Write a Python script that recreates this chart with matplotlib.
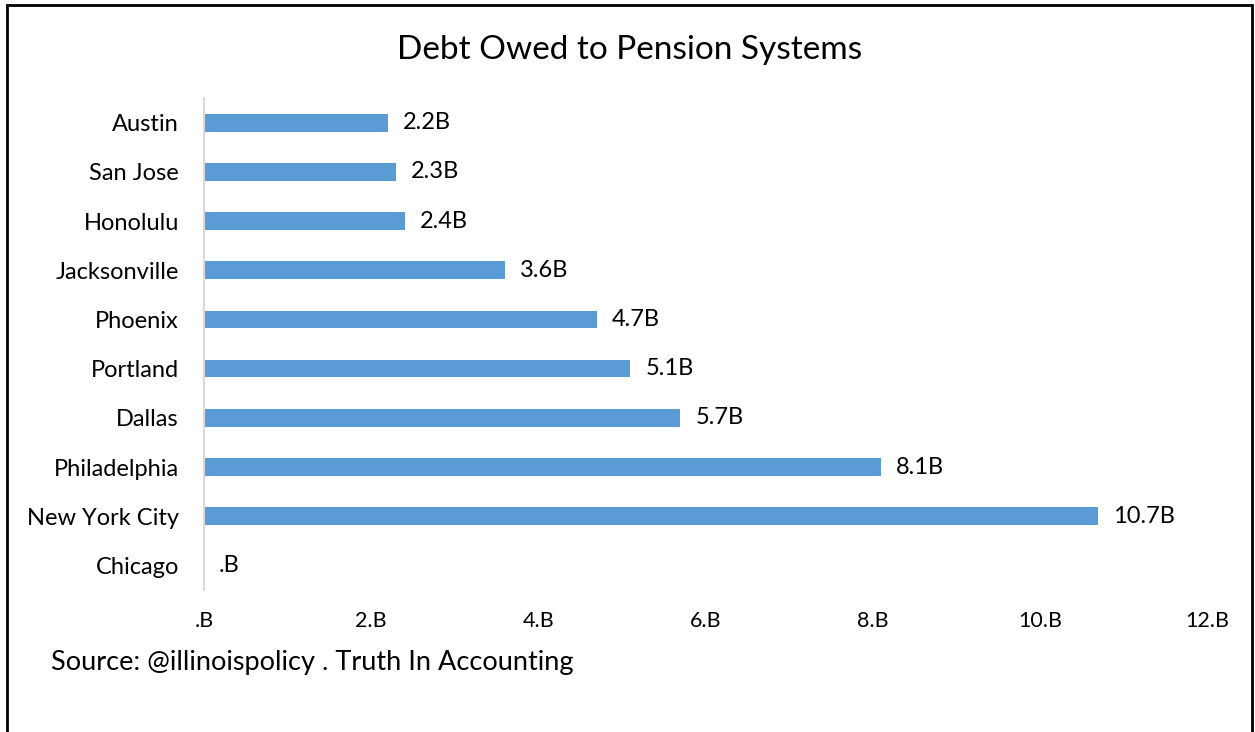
import numpy as np
import matplotlib.pyplot as plt
from matplotlib.patches import Rectangle

# data (billions)
cities = ['Austin', 'San Jose', 'Honolulu', 'Jacksonville', 'Phoenix',
          'Portland', 'Dallas', 'Philadelphia', 'New York City', 'Chicago']
debt = [2.2, 2.3, 2.4, 3.6, 4.7, 5.1, 5.7, 8.1, 10.7, 0.0]
xticks = [0, 2, 4, 6, 8, 10, 12]

plt.rcParams['font.family'] = ['Lato', 'DejaVu Sans']

# excel style "#.#B" number format
def fmt(v):
    s = f"{v:.1f}".rstrip('0')
    if s.startswith('0'):
        s = s[1:]
    return s + 'B'

fig = plt.figure(figsize=(12.55, 7.32), dpi=100)
ax = fig.add_axes([0.1625, 0.194, 0.7993, 0.672])

y = np.arange(len(cities))
ax.barh(y, debt, height=0.36, color='#5B9BD5')
for yi, v in zip(y, debt):
    ax.text(v + 0.18, yi, fmt(v), va='center', ha='left', fontsize=17, color='#000000')

ax.set_ylim(len(cities) - 0.5, -0.5)
ax.set_yticks(y)
ax.set_yticklabels(cities, fontsize=17)
ax.set_xlim(0, 12)
ax.set_xticks(xticks)
ax.set_xticklabels([fmt(t) for t in xticks], fontsize=15.5)
ax.tick_params(axis='y', length=0, pad=18)
ax.tick_params(axis='x', length=0, pad=15)

for s in ['top', 'right', 'bottom']:
    ax.spines[s].set_visible(False)
ax.spines['left'].set_color('#D9D9D9')
ax.spines['left'].set_linewidth(1.5)

fig.text(0.502, 0.932, 'Debt Owed to Pension Systems', ha='center', va='center', fontsize=24)
fig.text(0.041, 0.095, 'Source: @illinoispolicy . Truth In Accounting', ha='left', va='center', fontsize=19.5)

# black frame round the chart (cut off at the bottom)
fig.patches.append(Rectangle((7 / 1255, -0.05), 1245 / 1255, 1.05 - 5 / 732,
                             transform=fig.transFigure, fill=False,
                             edgecolor='black', linewidth=2))

plt.savefig('out.png', dpi=100)
